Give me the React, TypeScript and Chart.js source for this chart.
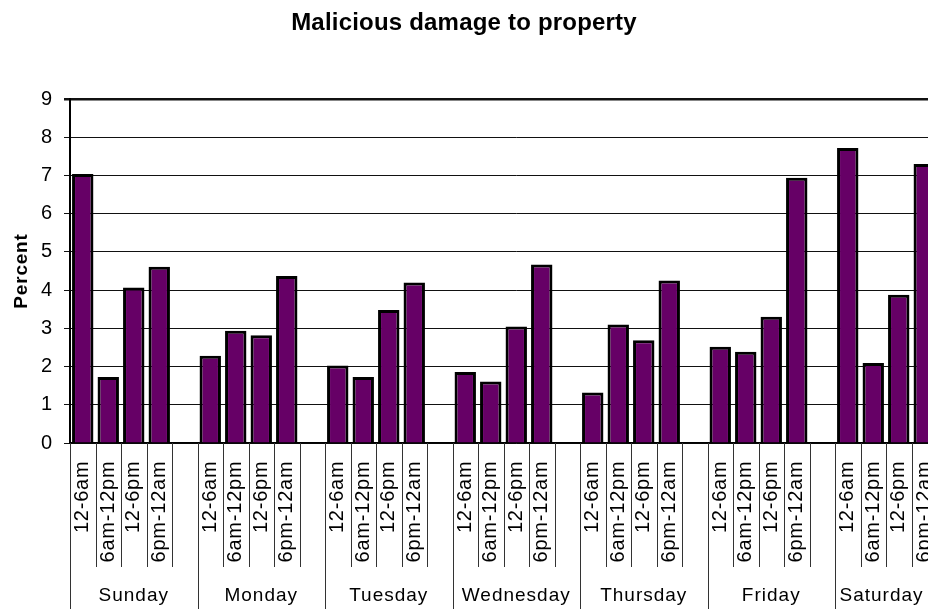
import React, { useEffect, useRef } from 'react';
import { Chart, registerables } from 'chart.js';

Chart.register(...registerables);

const chartTitle = 'Malicious damage to property';
const yAxisTitle = 'Percent';
const days = ['Sunday', 'Monday', 'Tuesday', 'Wednesday', 'Thursday', 'Friday', 'Saturday'];
const periods = ['12-6am', '6am-12pm', '12-6pm', '6pm-12am'];

const sunday = [7.04, 1.73, 4.07, 4.61];
const monday = [2.28, 2.94, 2.82, 4.37];
const tuesday = [2.03, 1.73, 3.48, 4.2];
const wednesday = [1.86, 1.61, 3.05, 4.67];
const thursday = [1.32, 3.1, 2.69, 4.25];
const friday = [2.52, 2.39, 3.3, 6.94];
const saturday = [7.72, 2.09, 3.88, 7.3];

const dayValues = [sunday, monday, tuesday, wednesday, thursday, friday, saturday];

const yMin = 0;
const yMax = 9;
const yStep = 1;

// category table: 4 periods + 1 empty gap per day
const labels: string[] = [];
const values: (number | null)[] = [];
dayValues.forEach((vals) => {
  periods.forEach((p, i) => {
    labels.push(p);
    values.push(vals[i]);
  });
  labels.push('');
  values.push(null);
});
const groupSize = periods.length + 1;

const FONT = '"Liberation Sans", Arial, Helvetica, sans-serif';
const VISIBLE_W = 928;

const spacingPlugin = {
  id: 'spacing',
  beforeDraw(chart: any) {
    (chart.ctx as any).letterSpacing = '0.8px';
  },
};

const decorPlugin = {
  id: 'decor',
  afterDraw(chart: any) {
    const { ctx, chartArea, scales } = chart;
    const x = scales.x;
    const w = x.getPixelForValue(1) - x.getPixelForValue(0);
    const start = x.getPixelForValue(0) - w / 2;
    ctx.save();
    // separators under the axis
    ctx.strokeStyle = '#333';
    ctx.lineWidth = 1;
    for (let i = 0; i <= labels.length; i++) {
      const bx = Math.round(start + i * w) + 0.5;
      const end = i % groupSize === 0 ? chart.height : chartArea.bottom + 124;
      ctx.beginPath();
      ctx.moveTo(bx, chartArea.bottom);
      ctx.lineTo(bx, end);
      ctx.stroke();
    }
    // day labels (centred in the visible part of each group)
    ctx.fillStyle = '#000';
    ctx.font = `19px ${FONT}`;
    (ctx as any).letterSpacing = '1px';
    ctx.textAlign = 'center';
    ctx.textBaseline = 'alphabetic';
    days.forEach((d, di) => {
      const g0 = start + di * groupSize * w;
      const g1 = Math.min(start + (di + 1) * groupSize * w, VISIBLE_W);
      ctx.fillText(d, (g0 + g1) / 2, 601);
    });
    // title
    ctx.font = `bold 24px ${FONT}`;
    (ctx as any).letterSpacing = '0.2px';
    ctx.fillText(chartTitle, 464, 30);
    ctx.restore();
  },
};

export default function App() {
  const ref = useRef<HTMLCanvasElement>(null);
  useEffect(() => {
    if (!ref.current) return;
    const chart = new Chart(ref.current, {
      type: 'bar',
      data: {
        labels,
        datasets: [
          {
            data: values,
            backgroundColor: '#660066',
            borderColor: '#000000',
            borderWidth: 3,
            barPercentage: 0.84,
            categoryPercentage: 1,
          },
        ],
      },
      options: {
        responsive: false,
        animation: false,
        devicePixelRatio: 1,
        layout: { padding: { top: 99, left: 0, right: 7.5, bottom: 0 } },
        plugins: {
          legend: { display: false },
          title: { display: false },
          tooltip: { enabled: false },
        },
        scales: {
          x: {
            type: 'category',
            offset: true,
            grid: { display: false, drawTicks: false },
            border: { display: true, color: '#000', width: 1.5 },
            ticks: {
              autoSkip: false,
              minRotation: 90,
              maxRotation: 90,
              padding: 17.5,
              color: '#000',
              font: { family: FONT, size: 20 },
            },
            afterFit: (s: any) => {
              s.height = 166;
              s.paddingLeft = 0;
              s.paddingRight = 0;
            },
          },
          y: {
            min: yMin,
            max: yMax,
            ticks: {
              stepSize: yStep,
              padding: 11,
              color: '#000',
              font: { family: FONT, size: 20 },
            },
            grid: {
              color: '#111',
              lineWidth: (c: any) => (c.tick && c.tick.value === yMax ? 2.5 : 1),
              tickLength: 6,
              drawTicks: true,
            },
            border: { display: true, color: '#000', width: 2 },
            title: {
              display: true,
              text: yAxisTitle,
              color: '#000',
              font: { family: FONT, size: 19, weight: 'bold' },
              padding: { top: 10.5, bottom: 0 },
            },
            afterFit: (s: any) => {
              s.width = 70;
              s.paddingTop = 0;
              s.paddingBottom = 0;
            },
          },
        },
      },
      plugins: [spacingPlugin, decorPlugin],
    });
    return () => chart.destroy();
  }, []);
  return (
    <div style={{ position: 'fixed', left: 0, top: 0, width: VISIBLE_W, height: 609, overflow: 'hidden', background: '#fff' }}>
      <canvas ref={ref} width={970} height={609} style={{ display: 'block', width: 970, height: 609 }} />
    </div>
  );
}
